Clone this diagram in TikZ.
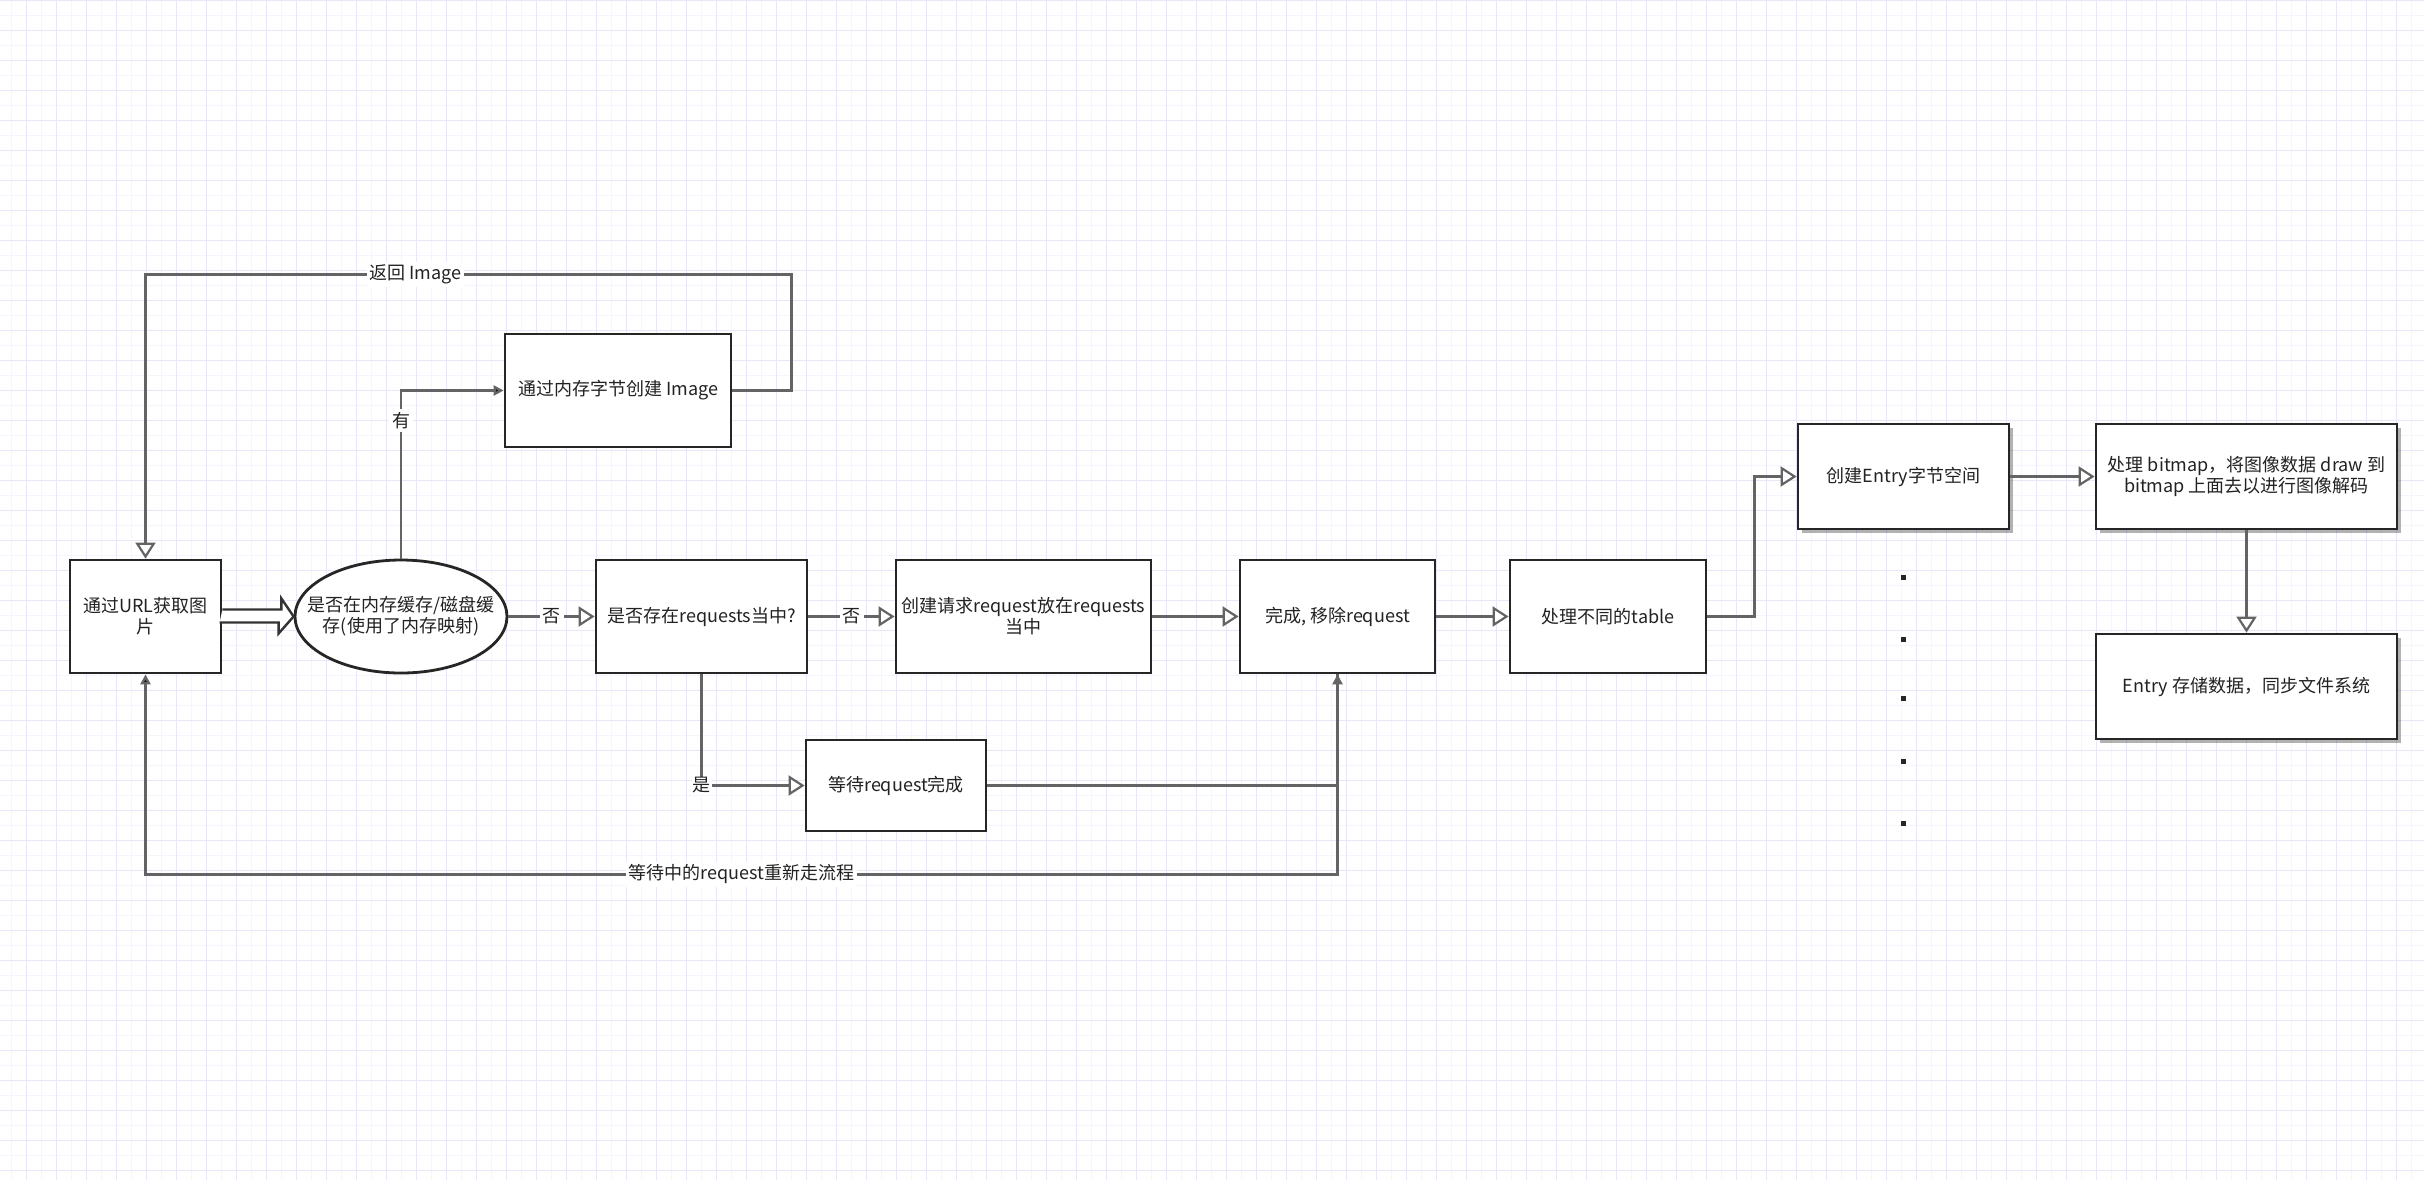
\documentclass[tikz,border=0pt]{standalone}
\usepackage{fontspec}
\setmainfont{Noto Sans CJK SC}
\usetikzlibrary{arrows.meta,fit,calc,shadows,shapes.geometric}
\definecolor{gridmaj}{RGB}{232,231,250}
\definecolor{gridmin}{RGB}{246,245,253}
\definecolor{txt}{RGB}{34,34,34}
\definecolor{linec}{RGB}{100,100,100}
\begin{document}
\begin{tikzpicture}[x=0.5pt,y=-0.5pt,
  every node/.style={font=\fontsize{9pt}{10.5pt}\selectfont, text=txt},
  box/.style={draw=black!85, line width=1.4pt, fill=white, inner sep=0pt},
  sbox/.style={box, drop shadow={shadow xshift=2pt, shadow yshift=-2pt, fill=black, opacity=0.3}},
  txtin/.style={label={[align=center]center:{#1}}},
  conn/.style={draw=linec, line width=1.2pt},
  oa/.style={-{Triangle[open, length=8pt, width=10pt, fill=white, line width=1.1pt]}},
  fa/.style={-{Triangle[length=5pt, width=5pt, fill=black]}},
  lbl/.style={fill=white, inner sep=1.5pt}
]
% background and grid
\fill[white] (0,0) rectangle (2424,1180);
\useasboundingbox (0,0) rectangle (2424,1180);
\foreach \i in {0,...,80} {
  \draw[gridmin, line width=0.7pt] (11.7+30*\i,0) -- (11.7+30*\i,1180);
}
\foreach \j in {0,...,39} {
  \draw[gridmin, line width=0.7pt] (0,15.7+30*\j) -- (2424,15.7+30*\j);
}
\foreach \i in {0,...,80} {
  \draw[gridmaj, line width=0.75pt] (26.7+30*\i,0) -- (26.7+30*\i,1180);
}
\foreach \j in {0,...,39} {
  \draw[gridmaj, line width=0.75pt] (0,0.7+30*\j) -- (2424,0.7+30*\j);
}

% nodes
\node[box, fit={(70,560)(221,673)}, txtin={通过URL获取图\\片}] (url) {};
\node[box, ellipse, minimum width=106pt, minimum height=56.5pt,
  txtin={是否在内存缓存/磁盘缓\\存(使用了内存映射)}] (ell) at (401,616.5) {};
\node[box, fit={(505,334)(731,447)}, txtin={通过内存字节创建 Image}] (img) {};
\node[box, fit={(596,560)(807,673)}, txtin={是否存在requests当中?}] (req) {};
\node[box, fit={(896,560)(1151,673)}, txtin={创建请求request放在requests\\当中}] (crt) {};
\node[box, fit={(1240,560)(1435,673)}, txtin={完成, 移除request}] (wan) {};
\node[box, fit={(1510,560)(1706,673)}, txtin={处理不同的table}] (tab) {};
\node[box, fit={(806,740)(986,831)}, txtin={等待request完成}] (wt) {};
\node[sbox, fit={(1798,424)(2009,529)}, txtin={创建Entry字节空间}] (ent) {};
\node[sbox, fit={(2096,424)(2397,529)}, txtin={处理 bitmap，将图像数据 draw 到\\bitmap 上面去以进行图像解码}] (bmp) {};
\node[sbox, fit={(2096,634)(2397,739)}, txtin={Entry 存储数据，同步文件系统}] (sto) {};

% connectors
\draw[draw=black!80, line width=1.2pt, fill=white, line join=miter]
  ($(url.east)+(0,-7)$) -- ++(59,0) -- ++(0,-11) -- (ell.west) -- ++(-15,17) -- ++(0,-11) -- ++(-59,0);
\draw[conn, oa] (ell.east) -- node[lbl]{否} (req.west);
\draw[conn, oa] (req.east) -- node[lbl]{否} (crt.west);
\draw[conn, oa] (crt.east) -- (wan.west);
\draw[conn, oa] (wan.east) -- (tab.west);
\draw[conn, oa] (tab.east) -- ++(47,0) |- (ent.west);
\draw[conn, oa] (ent.east) -- (bmp.west);
\draw[conn, oa] (bmp.south) -- (sto.north);
\draw[conn, fa] (ell.north) |- node[pos=0.41, lbl]{有} (img.west);
\draw[conn, oa] (img.east) -- ++(59,0) |- node[pos=0.791, lbl]{返回 Image} ($(url.north)+(0,-284)$) -- (url.north);
\draw[conn, oa] (req.south) |- node[lbl, inner sep=0.5pt]{是} (wt.west);
\draw[conn, fa] (wt.east) -| (wan.south);
\draw[conn, fa] (wan.south) -- ++(0,200) -| node[pos=0.25, lbl]{等待中的request重新走流程} (url.south);

% ellipsis dots
\foreach \y in {577,639,698,761,823} {
  \fill[black!85] (1900.5,\y-2.5) rectangle ++(5,5);
}
\end{tikzpicture}
\end{document}
